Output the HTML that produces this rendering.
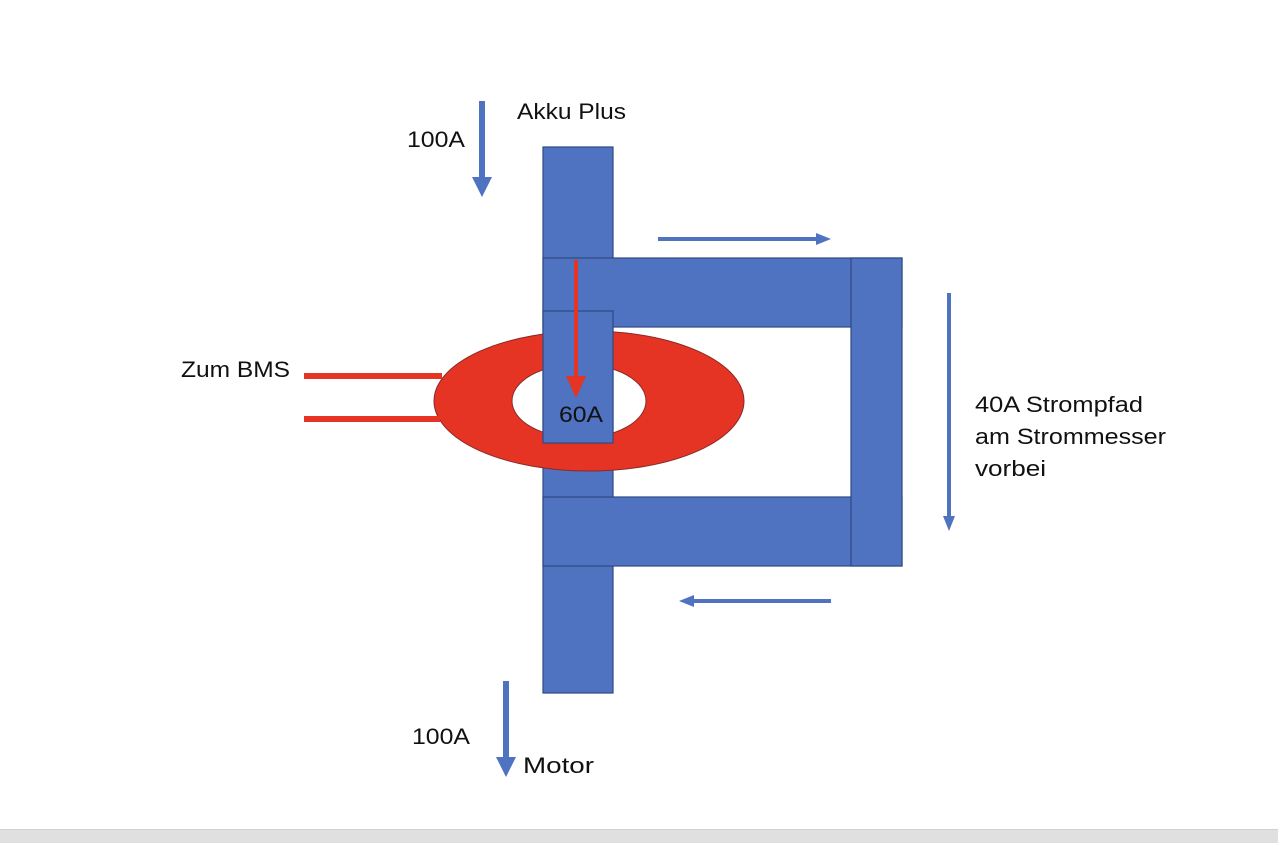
<!DOCTYPE html>
<html><head><meta charset="utf-8"><style>
html,body{margin:0;padding:0;background:#fff;}
svg{display:block}
text{font-family:"Liberation Sans",sans-serif;font-size:22px;fill:#111;}
</style></head><body>
<svg width="1278" height="843" viewBox="0 0 1278 843">
<rect x="0" y="0" width="1278" height="829" fill="#fff"/>
<rect x="0" y="829" width="1278" height="14" fill="#e0e0e0"/>
<line x1="0" y1="829.5" x2="1278" y2="829.5" stroke="#d0d0d0"/>
<g fill="#4f72c1" stroke="#2f4a82" stroke-width="1.2">
<rect x="543" y="147" width="70" height="546"/>
<rect x="543" y="258" width="359" height="69"/>
<rect x="543" y="497" width="359" height="69"/>
<rect x="851" y="258" width="51" height="308"/>
</g>
<path fill="#e53324" fill-rule="evenodd" stroke="#8a2a2a" stroke-width="1" d="M434,401 a155,70 0 1,0 310,0 a155,70 0 1,0 -310,0 Z M512,401 a67,37 0 1,0 134,0 a67,37 0 1,0 -134,0 Z"/>
<rect x="543" y="311" width="70" height="132" fill="#4f72c1" stroke="#2f4a82" stroke-width="1.2"/>
<g stroke="#e53324" stroke-width="6">
<line x1="304" y1="376" x2="442" y2="376"/>
<line x1="304" y1="419" x2="440" y2="419"/>
</g>
<line x1="576" y1="260" x2="576" y2="378" stroke="#e53324" stroke-width="4"/>
<polygon points="566,376 586,376 576,398" fill="#e53324"/>
<g fill="#4f72c1">
<rect x="479" y="101" width="6" height="78"/>
<polygon points="472,177 492,177 482,197"/>
<rect x="503" y="681" width="6" height="78"/>
<polygon points="496,757 516,757 506,777"/>
<rect x="658" y="237" width="160" height="4"/>
<polygon points="816,233 831,239 816,245"/>
<rect x="947" y="293" width="4" height="224"/>
<polygon points="943,516 955,516 949,531"/>
<rect x="692" y="599" width="139" height="4"/>
<polygon points="694,595 679,601 694,607"/>
</g>
<text x="517" y="119" textLength="109" lengthAdjust="spacingAndGlyphs">Akku Plus</text>
<text x="407" y="147" textLength="58" lengthAdjust="spacingAndGlyphs">100A</text>
<text x="181" y="377" textLength="109" lengthAdjust="spacingAndGlyphs">Zum BMS</text>
<text x="559" y="422" textLength="44" lengthAdjust="spacingAndGlyphs">60A</text>
<text x="975" y="412" textLength="168" lengthAdjust="spacingAndGlyphs">40A Strompfad</text>
<text x="975" y="444" textLength="191" lengthAdjust="spacingAndGlyphs">am Strommesser</text>
<text x="975" y="476" textLength="71" lengthAdjust="spacingAndGlyphs">vorbei</text>
<text x="412" y="744" textLength="58" lengthAdjust="spacingAndGlyphs">100A</text>
<text x="523" y="773" textLength="71" lengthAdjust="spacingAndGlyphs">Motor</text>
</svg>
</body></html>
